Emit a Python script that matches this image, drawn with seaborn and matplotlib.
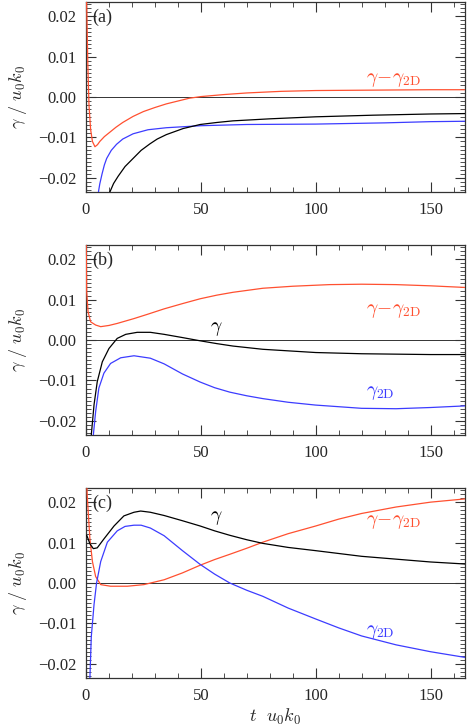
import numpy as np
import pandas as pd
import matplotlib
matplotlib.use("Agg")
import matplotlib.pyplot as plt
import seaborn as sns
from matplotlib.ticker import MultipleLocator

sns.set_theme(style="white")
plt.rcParams['font.family'] = ['Liberation Serif', 'DejaVu Serif']
plt.rcParams['mathtext.fontset'] = 'cm'

RED = "#ff5030"
BLUE = "#3c3cff"
BLACK = "#000000"

# ---- panel (a) ----
a_t_red = [0.0, 0.4, 0.8, 1.3, 2.0, 2.8, 3.9, 5.0, 6.0, 8.0, 10.4, 13, 16, 20.5, 25, 30, 35, 40, 45, 50, 60, 70, 85, 100, 125, 150, 165]
a_red   = [0.030, 0.020, 0.008, -0.002, -0.0080, -0.0110, -0.0123, -0.0118, -0.0110, -0.0098, -0.0087, -0.0075, -0.0063, -0.0048, -0.0036, -0.0026, -0.0017, -0.0010, -0.0003, 0.0001, 0.0006, 0.0010, 0.0014, 0.0016, 0.0017, 0.0018, 0.0018]
a_t_blue = [5.0, 5.5, 6.0, 7.0, 8.0, 9.0, 11, 13.3, 16, 20.5, 27, 35, 50, 70, 100, 130, 150, 165]
a_blue   = [-0.0255, -0.0232, -0.0215, -0.0190, -0.0168, -0.0152, -0.0132, -0.0117, -0.0104, -0.0091, -0.0081, -0.0076, -0.0071, -0.0068, -0.0067, -0.0064, -0.0061, -0.0060]
a_t_black = [9.5, 10.4, 12, 14, 17, 20.5, 24, 27.8, 31, 35, 42.3, 49.7, 57, 64, 80, 100, 125, 150, 165]
a_black   = [-0.0250, -0.0235, -0.0214, -0.0196, -0.0172, -0.0152, -0.0132, -0.0116, -0.0104, -0.0093, -0.0078, -0.0068, -0.0063, -0.0059, -0.0054, -0.0049, -0.0045, -0.0042, -0.0041]

# ---- panel (b) ----
b_t_red = [0.0, 0.3, 0.9, 2.0, 4.2, 6.4, 10, 13.6, 20.9, 27, 34, 42, 49.7, 57, 64, 77, 90, 106, 120, 135, 150, 165]
b_red   = [0.030, 0.012, 0.0070, 0.0045, 0.0037, 0.0033, 0.0036, 0.0041, 0.0053, 0.0064, 0.0077, 0.0090, 0.0102, 0.0111, 0.0118, 0.0128, 0.0133, 0.0137, 0.0138, 0.0137, 0.0134, 0.0130]
b_t_black = [2.3, 3.5, 4.9, 7.1, 10, 13.6, 17.3, 22.3, 28, 34, 42, 49.7, 57, 64, 77, 100, 120, 150, 165]
b_black   = [-0.0235, -0.0160, -0.0103, -0.0054, -0.0021, 0.0004, 0.0014, 0.0019, 0.0019, 0.0014, 0.0006, -0.0002, -0.0009, -0.0015, -0.0023, -0.0031, -0.0034, -0.0036, -0.0036]
b_t_blue = [3.2, 4.2, 5.6, 7.8, 10.7, 15.1, 20.9, 28, 34, 42, 49.7, 56, 62.6, 70, 77, 88, 100, 120, 135, 150, 165]
b_blue   = [-0.0235, -0.0177, -0.0119, -0.0082, -0.0058, -0.0044, -0.0039, -0.0045, -0.0059, -0.0084, -0.0104, -0.0118, -0.0129, -0.0138, -0.0145, -0.0154, -0.0161, -0.0169, -0.0170, -0.0167, -0.0163]

# ---- panel (c) ----
c_t_red = [0.0, 0.5, 0.9, 1.7, 2.8, 4.2, 6.4, 10.7, 18, 25.2, 34, 42, 49.7, 56, 62.6, 70, 77, 88, 100, 110, 120, 135, 150, 165]
c_red   = [0.030, 0.022, 0.0182, 0.0109, 0.0053, 0.0016, -0.0004, -0.0008, -0.0008, -0.0004, 0.0008, 0.0025, 0.0044, 0.0058, 0.0071, 0.0086, 0.0101, 0.0122, 0.0141, 0.0158, 0.0172, 0.0188, 0.0200, 0.0208]
c_t_black = [0.3, 1.0, 1.7, 3.2, 4.9, 7.8, 12.2, 16.5, 20.9, 23.8, 28, 34, 42, 49.7, 56, 62.6, 70, 77, 88, 100, 120, 150, 165]
c_black   = [0.0118, 0.0108, 0.0097, 0.0085, 0.0087, 0.0109, 0.0141, 0.0166, 0.0175, 0.0178, 0.0175, 0.0167, 0.0154, 0.0141, 0.0129, 0.0118, 0.0107, 0.0098, 0.0088, 0.0080, 0.0066, 0.0052, 0.0047]
c_t_blue = [1.7, 2.3, 3.5, 4.6, 6.4, 9.3, 13.6, 17, 20.9, 24, 28, 34, 42, 49.7, 56, 62.6, 70, 77, 88, 100, 110, 120, 135, 150, 165]
c_blue   = [-0.0235, -0.0133, -0.0053, 0.0000, 0.0053, 0.0101, 0.0129, 0.0140, 0.0143, 0.0143, 0.0136, 0.0117, 0.0080, 0.0046, 0.0022, 0.0000, -0.0018, -0.0033, -0.0062, -0.0089, -0.0111, -0.0131, -0.0153, -0.0170, -0.0184]

panels = [
    ("(a)", [(a_t_red, a_red, RED), (a_t_blue, a_blue, BLUE), (a_t_black, a_black, BLACK)]),
    ("(b)", [(b_t_red, b_red, RED), (b_t_blue, b_blue, BLUE), (b_t_black, b_black, BLACK)]),
    ("(c)", [(c_t_red, c_red, RED), (c_t_blue, c_blue, BLUE), (c_t_black, c_black, BLACK)]),
]

fig = plt.figure(figsize=(4.68, 7.28), dpi=100)
left, width = 86 / 468, 379 / 468
tops = [2, 245, 488]
height = 190 / 728
axes = []
for top in tops:
    ax = fig.add_axes([left, 1 - (top + 190) / 728, width, height])
    axes.append(ax)

for ax, (tag, series) in zip(axes, panels):
    ax.axhline(0, color="#333333", lw=0.7, zorder=1)
    for t, y, c in series:
        df = pd.DataFrame({"t": t, "g": y})
        sns.lineplot(data=df, x="t", y="g", ax=ax, color=c, lw=0.9, zorder=3)
    ax.set_xlim(0, 165)
    ax.set_ylim(-0.0235, 0.0235)
    ax.xaxis.set_major_locator(MultipleLocator(50))
    ax.xaxis.set_minor_locator(MultipleLocator(10))
    ax.yaxis.set_minor_locator(MultipleLocator(0.001))
    ax.set_yticks([-0.02, -0.01, 0.0, 0.01, 0.02])
    ax.set_yticklabels(["\u22120.02", "\u22120.01", "0.00", "0.01", "0.02"])
    ax.tick_params(which="both", direction="in", top=True, right=True, bottom=True, left=True,
                   labelsize=12, color="#333333")
    ax.tick_params(which="major", length=7, width=0.8, pad=7)
    ax.tick_params(which="minor", length=3.5, width=0.6)
    for s in ax.spines.values():
        s.set_color("#333333")
        s.set_linewidth(0.9)
    ax.set_xlabel("")
    ax.set_ylabel(r"$\gamma\ /\ u_0k_0$", fontsize=13, labelpad=6)
    ax.text(0.017, 0.965, tag, transform=ax.transAxes, fontsize=13, va="top", ha="left")

fs = 14
axes[0].text(122, 0.0037, r"$\gamma\!-\!\gamma_{\rm 2D}$", color=RED, fontsize=fs)
axes[1].text(122, 0.0066, r"$\gamma\!-\!\gamma_{\rm 2D}$", color=RED, fontsize=fs)
axes[1].text(54, 0.0022, r"$\gamma$", color=BLACK, fontsize=fs)
axes[1].text(122, -0.0137, r"$\gamma_{\rm 2D}$", color=BLUE, fontsize=fs)
axes[2].text(54, 0.0155, r"$\gamma$", color=BLACK, fontsize=fs)
axes[2].text(122, 0.0145, r"$\gamma\!-\!\gamma_{\rm 2D}$", color=RED, fontsize=fs)
axes[2].text(122, -0.0125, r"$\gamma_{\rm 2D}$", color=BLUE, fontsize=fs)
axes[2].set_xlabel(r"$t\ \ u_0k_0$", fontsize=13, labelpad=2)

fig.savefig("out.png", dpi=100)
